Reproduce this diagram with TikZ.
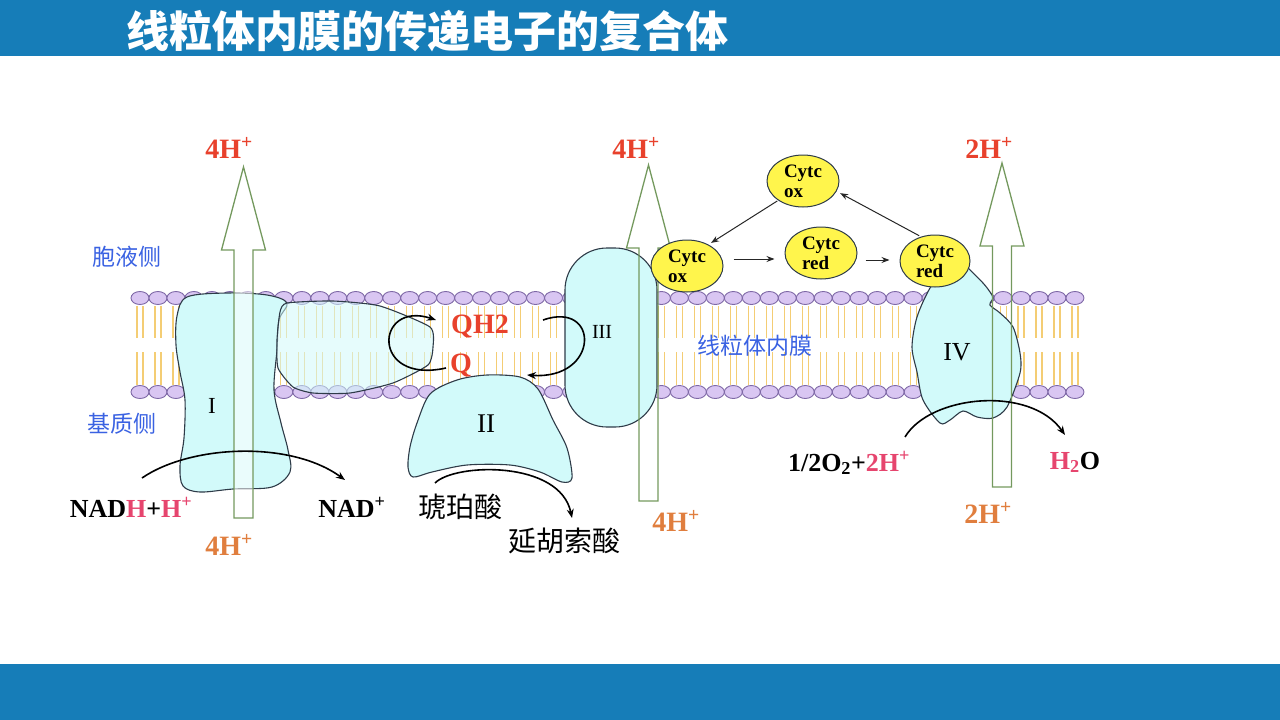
\documentclass[tikz,border=0pt]{standalone}
\usepackage{fontspec}
\setmainfont{Liberation Serif}
\newfontfamily\cjk{Noto Sans CJK SC}
\usetikzlibrary{calc,shapes.geometric,arrows.meta}
\definecolor{bandblue}{HTML}{167DB8}
\definecolor{protcyan}{HTML}{D2FAFA}
\definecolor{protedge}{HTML}{2E3B48}
\definecolor{headfill}{HTML}{D9C6F2}
\definecolor{headedge}{HTML}{7E68A6}
\definecolor{tailcol}{HTML}{F4CD74}
\definecolor{arrowgreen}{HTML}{74995E}
\definecolor{hred}{HTML}{E8412C}
\definecolor{horange}{HTML}{E07E3E}
\definecolor{hpink}{HTML}{E6456E}
\definecolor{sideblue}{HTML}{3A62E2}
\definecolor{cytyellow}{HTML}{FFF54C}
\def\protonarrow[#1](#2:#3:#4){\draw[#1] (#2-9.5,#4) -- (#2-9.5,#3+83) -- (#2-22,#3+83) -- (#2,#3) -- (#2+22,#3+83) -- (#2+9.5,#3+83) -- (#2+9.5,#4) -- cycle;}
\tikzset{
  protein/.style={draw=protedge, line width=1.1pt, fill=protcyan},
  harrow/.style={draw=arrowgreen, line width=1.3pt},
  lipidhead/.style={draw=headedge, line width=0.9pt, fill=headfill},
  lipidtail/.style={draw=tailcol, line width=1.1pt},
  react/.style={draw=black, line width=1.6pt, -{Stealth[length=9pt,width=7pt]}},
  cytarrow/.style={draw=black!85, line width=1pt, -{Stealth[length=8pt,width=6pt]}},
  cytc/.style={ellipse, draw=protedge, line width=1pt, fill=cytyellow, inner sep=0pt,
    minimum width=72pt, minimum height=52pt, align=left,
    font=\bfseries\fontsize{19}{20}\selectfont},
  redlbl/.style={text=hred, font=\bfseries\fontsize{28}{30}\selectfont},
  orglbl/.style={text=horange, font=\bfseries\fontsize{28}{30}\selectfont},
  chemlbl/.style={text=black, font=\bfseries\fontsize{26}{28}\selectfont},
  sidelbl/.style={text=sideblue, font=\cjk\fontsize{23}{25}\selectfont},
  acidlbl/.style={text=black, font=\cjk\fontsize{28}{30}\selectfont},
  romanlbl/.style={text=black, anchor=base}
}
\begin{document}
\begin{tikzpicture}[x=1pt,y=-1pt]
  \useasboundingbox (0,0) rectangle (1280,720);
  %%%%% bands %%%%%
  \fill[bandblue] (0,0) rectangle (1280,56);
  \fill[bandblue] (0,664) rectangle (1280,720);
  \node[anchor=west, text=white, font=\cjk\bfseries\fontsize{43}{46}\selectfont] (title) at (123,31) {线粒体内膜的传递电子的复合体};

  %%%%% membrane %%%%%
  \foreach \i in {0,...,52}{
    \pgfmathsetmacro\hx{140+17.98*\i}
    \draw[lipidtail] (\hx-3,306) -- (\hx-3,338) (\hx+3,306) -- (\hx+3,338)
      (\hx-3,352) -- (\hx-3,385) (\hx+3,352) -- (\hx+3,385);
  }
  \foreach \i in {0,...,52}{
    \pgfmathsetmacro\hx{140+17.98*\i}
    \draw[lipidhead] (\hx,298) ellipse (9 and 6.5);
    \draw[lipidhead] (\hx,392) ellipse (9 and 6.5);
  }

  %%%%% complexes %%%%%
  \draw[protein] plot[smooth cycle, tension=0.55] coordinates {(187,297) (227,293) (267,295) (287,303)
    (279,320) (277,350) (274,390) (281,423) (288,450) (290,472) (272,487) (233,489) (200,492)
    (183,486) (180,466) (184,438) (185,400) (180,372) (176,345) (177,316)};
  \draw[protein, fill opacity=0.55] plot[smooth cycle, tension=0.35] coordinates {(287,303) (333,301)
    (380,306) (430,327) (433,347) (428,365) (393,383) (350,393) (313,393) (293,387) (278,368)
    (277,340) (280,312)};
  \draw[protein] plot[smooth cycle, tension=0.5] coordinates {(430,394) (457,380) (487,375) (520,377)
    (538,389) (553,420) (567,448) (572,478) (562,482) (540,472) (510,465) (467,465) (432,472)
    (413,477) (408,467) (410,447) (417,423)};
  \draw[protein, rounded corners=42pt] (565,248) rectangle (657,427);
  \draw[protein] plot[smooth, tension=0.5] coordinates {(945,270) (930,288) (917,317) (912,347) (917,372)
    (923,400) (940,423) (950,420) (963,411) (977,417) (993,418) (1007,407) (1020,373) (1020,353)
    (1013,327) (1000,313) (990,305) (993,298) (990,292) (983,283) (967,267)} -- cycle;

  %%%%% proton pumps %%%%%
  \protonarrow[harrow, fill=white, fill opacity=0.55](243.5:167:518)
  \protonarrow[harrow](648.5:165:501)
  \protonarrow[harrow](1002:163:487)

  %%%%% cytochrome c %%%%%
  \node[cytc] (coxtop) at (803,181) {Cytc\\ox};
  \node[cytc] (coxleft) at (687,266) {Cytc\\ox};
  \node[cytc] (credmid) at (821,253) {Cytc\\red};
  \node[cytc, minimum width=70pt] (credright) at (935,261) {Cytc\\red};
  \draw[cytarrow, shorten >=3pt, shorten <=1pt] (coxtop.218) -- (coxleft.45);
  \draw[cytarrow] ($(coxleft.east)+(10,-7)$) -- ($(credmid.west)+(-10,6)$);
  \draw[cytarrow] ($(credmid.east)+(8,7)$) -- ($(credright.west)+(-10,-1)$);
  \draw[cytarrow, shorten >=4pt, shorten <=2pt] (credright.120) -- (coxtop.-17);

  %%%%% labels %%%%%
  \node[redlbl, anchor=base] (hupI) at (229,158) {4H\textsuperscript{+}};
  \node[redlbl, anchor=base] (hupIII) at (636,158) {4H\textsuperscript{+}};
  \node[redlbl, anchor=base] (hupIV) at (989,158) {2H\textsuperscript{+}};
  \node[orglbl, anchor=base] (hdnI) at (229,555) {4H\textsuperscript{+}};
  \node[orglbl, anchor=base] (hdnIII) at (676,531) {4H\textsuperscript{+}};
  \node[orglbl, anchor=base] (hdnIV) at (988,523) {2H\textsuperscript{+}};

  \node[sidelbl] (cyto) at (127,257) {胞液侧};
  \node[sidelbl] (matrix) at (122,424) {基质侧};
  \node[sidelbl] (inner) at (755,346) {线粒体内膜};

  \node[romanlbl, font=\fontsize{23}{25}\selectfont] (cI) at (212,413) {I};
  \node[romanlbl, font=\fontsize{27}{29}\selectfont] (cII) at (486,432) {II};
  \node[romanlbl, font=\fontsize{20}{22}\selectfont] (cIII) at (602,338) {III};
  \node[romanlbl, font=\fontsize{26}{28}\selectfont] (cIV) at (957,360) {IV};

  \node[redlbl, anchor=base] (qh) at (480,333) {QH2};
  \node[redlbl, anchor=base] (q) at (461,372) {Q};

  \node[chemlbl, anchor=base] (nadh) at (131,517) {NAD\textcolor{hpink}{H}+\textcolor{hpink}{H\textsuperscript{+}}};
  \node[chemlbl, anchor=base] (nad) at (352,517) {NAD\textsuperscript{+}};
  \node[acidlbl] (succ) at (460,507) {琥珀酸};
  \node[acidlbl] (fum) at (564,541) {延胡索酸};
  \node[chemlbl, anchor=base] (oxy) at (849,471) {1/2O\textsubscript{2}+\textcolor{hpink}{2H\textsuperscript{+}}};
  \node[chemlbl, anchor=base] (water) at (1075,469) {\textcolor{hpink}{H\textsubscript{2}}O};

  %%%%% electron flow %%%%%
  \coordinate (nadhtop) at (142,478);
  \coordinate (nadtop) at (345,480);
  \coordinate (succtop) at (435,483);
  \coordinate (fumtop) at (572,518);
  \coordinate (qleft) at (446,368);
  \coordinate (qhleft) at (436,320);
  \coordinate (qhright) at (543,320);
  \coordinate (qright) at (527,375);
  \coordinate (oxytop) at (905,437);
  \coordinate (watertop) at (1065,435);
  \draw[react] (nadhtop) .. controls (190,445) and (290,440) .. (nadtop);
  \draw[react] (succtop) .. controls (455,463) and (560,460) .. (fumtop);
  \draw[react] (qleft) .. controls (370,385) and (375,300) .. (qhleft);
  \draw[react] (qhright) .. controls (600,300) and (600,380) .. (qright);
  \draw[react] (oxytop) .. controls (930,395) and (1030,385) .. (watertop);
\end{tikzpicture}
\end{document}
